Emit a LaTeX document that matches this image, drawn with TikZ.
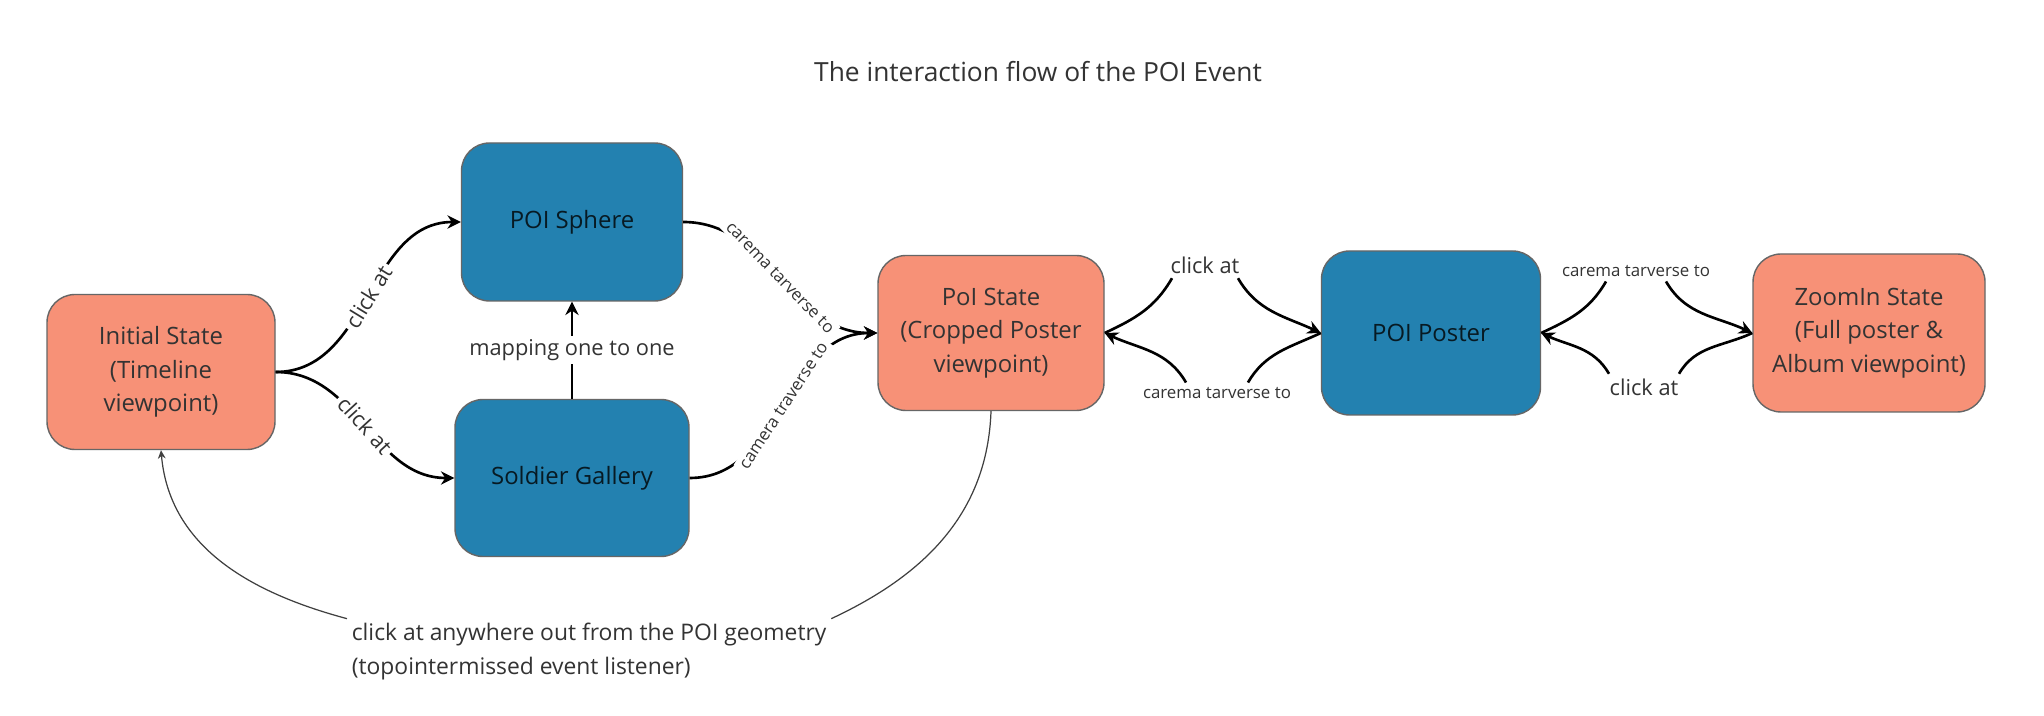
\documentclass[tikz,border=0pt]{standalone}
\usepackage{fontspec}
\setmainfont{Open Sans}
\usetikzlibrary{arrows.meta,positioning}
\definecolor{salmon}{HTML}{F79177}
\definecolor{poiblue}{HTML}{2381B0}
\definecolor{inkgray}{HTML}{333333}
\begin{document}
\begin{tikzpicture}[>={Stealth[length=3.8pt,width=3.8pt]}, line width=0.75pt,
state node/.style={rectangle,rounded corners=0.28cm,draw=black!60,line width=0.4pt,fill=salmon,text=inkgray,align=center,font=\fontsize{6.8}{9.6}\selectfont,minimum width=2.28cm,minimum height=1.55cm,inner sep=0pt},
object node/.style={state node,fill=poiblue,text=black!80!poiblue},
lbl/.style={font=\fontsize{6.2}{8}\selectfont,text=inkgray,inner sep=1pt},
small lbl/.style={lbl,font=\fontsize{4.8}{6}\selectfont},
back line/.style={line width=0.35pt,draw=black!75}]
\fill[white] (0,0) rectangle (20.44,7.16);
\useasboundingbox (0,0) rectangle (20.44,7.16);
\node[font=\fontsize{7.5}{9}\selectfont,text=inkgray] (title) at (10.38,6.44) {The interaction flow of the POI Event};
% states and objects
\begin{scope}
\node[state node] (init) at (1.61,3.44) {Initial State\\(Timeline\\viewpoint)};
\node[object node,minimum width=2.21cm,minimum height=1.58cm] (sphere) at (5.72,4.94) {POI Sphere};
\node[object node,minimum width=2.34cm,minimum height=1.57cm] (gallery) at (5.72,2.38) {Soldier Gallery};
\node[state node,minimum width=2.26cm] (poi) at (9.91,3.83) {PoI State\\(Cropped Poster\\viewpoint)};
\node[object node,minimum width=2.19cm,minimum height=1.64cm] (poster) at (14.31,3.83) {POI Poster};
\node[state node,minimum width=2.32cm,minimum height=1.58cm] (zoomin) at (18.69,3.83) {ZoomIn State\\(Full poster \&\\Album viewpoint)};
\end{scope}
% labels between the right hand states
\node[lbl] (ca1) at (12.05,4.51) {click at};
\node[small lbl] (ct1) at (12.17,3.23) {carema tarverse to};
\node[small lbl] (ct2) at (16.36,4.45) {carema tarverse to};
\node[lbl] (ca2) at (16.44,3.29) {click at};
\node[lbl,align=left,anchor=west,font=\fontsize{6.5}{9.4}\selectfont] (anywhere) at (3.47,0.645) {click at anywhere out from the POI geometry\\(topointermissed event listener)};
\begin{scope}
\draw[->] (init.east) to[out=0,in=180] node[lbl,sloped,fill=white]{click at} (sphere.west);
\draw[->] (init.east) to[out=0,in=180] node[lbl,sloped,fill=white]{click at} (gallery.west);
\draw[->] (sphere.east) to[out=0,in=180] node[small lbl,sloped,fill=white]{carema tarverse to} (poi.west);
\draw[->] (gallery.east) to[out=0,in=180] node[small lbl,sloped,fill=white]{camera traverse to} (poi.west);
\draw[->] (gallery.north) -- node[lbl,fill=white]{mapping one to one} (sphere.south);
\draw[->] (poi.east) to[out=25,in=-120] ([xshift=-0.33cm]ca1.south) ([xshift=0.33cm]ca1.south) to[out=-60,in=155] (poster.west);
\draw[->] (poster.west) to[out=-155,in=60] ([xshift=0.31cm]ct1.north) ([xshift=-0.31cm]ct1.north) to[out=120,in=-25] (poi.east);
\draw[->] (poster.east) to[out=25,in=-120] ([xshift=-0.30cm]ct2.south) ([xshift=0.30cm]ct2.south) to[out=-60,in=155] (zoomin.west);
\draw[->] (zoomin.west) to[out=-155,in=60] ([xshift=0.35cm]ca2.north) ([xshift=-0.35cm]ca2.north) to[out=120,in=-25] (poster.east);
%\draw (poi.south) -- (init.south);
\draw[back line] (poi.south) to[out=-92,in=25] (anywhere.north east);
\draw[back line,-{Stealth[length=2.4pt,width=2.2pt]}] (anywhere.north west) to[out=165,in=-85] (init.south);
\end{scope}
\end{tikzpicture}
\end{document}
